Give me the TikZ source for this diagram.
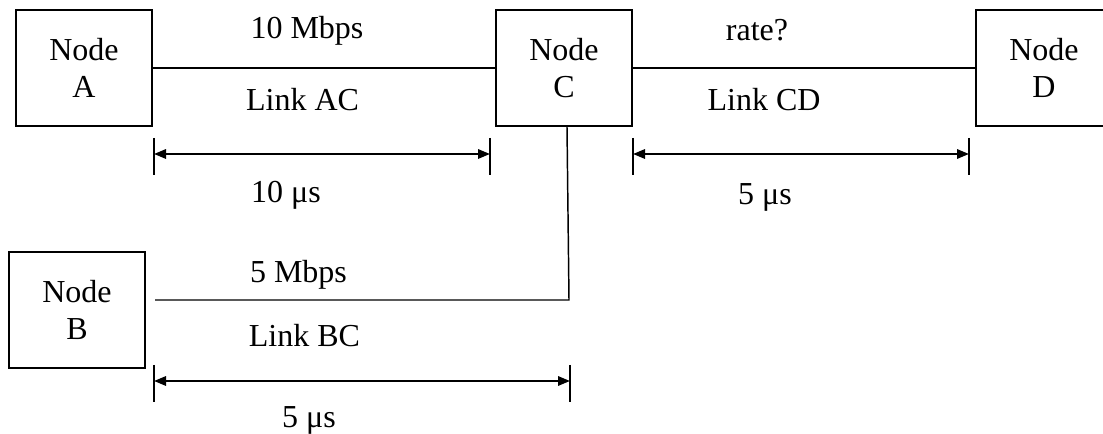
\documentclass[tikz,border=0pt]{standalone}
\usepackage{fontspec}
\setmainfont{Liberation Serif}
\usetikzlibrary{arrows.meta,calc}

\tikzset{
  nodebox/.style={draw, line width=1.6pt, minimum width=102pt, minimum height=87pt,
    inner sep=0pt, align=center, font=\fontsize{24}{27.75}\selectfont},
  lbl/.style={anchor=base, inner sep=0pt, font=\fontsize{24}{27.75}\selectfont},
  linkline/.style={line width=1.5pt},
  thinlink/.style={line width=1.1pt},
  tickline/.style={line width=1.7pt},
  dimline/.style={line width=1.6pt, {Triangle[length=9pt,width=7pt]}-{Triangle[length=9pt,width=7pt]}}
}

\begin{document}
\begin{tikzpicture}[x=0.75pt, y=-0.75pt]
    \useasboundingbox (0,0) rectangle (1103,434);

    \node[nodebox] (A) at (84,68) {Node\\A};
    \node[nodebox] (C) at (564,68) {Node\\C};
    \node[nodebox] (D) at (1044,68) {Node\\D};
    \node[nodebox] (B) at (77,310) {Node\\B};

    \draw[linkline] (A.east) -- (C.west);
    \draw[linkline] (C.east) -- (D.west);
    \coordinate (bc) at (569,300);
    \draw[thinlink] ($(B.east)+(9,-10)$) -- (bc) -- ($(C.south)+(3,0)$);

    \coordinate (ac1) at (154,154);
    \coordinate (ac2) at (490,154);
    \coordinate (cd1) at (633,154);
    \coordinate (cd2) at (969,154);
    \coordinate (bc1) at (154,381);
    \coordinate (bc2) at (570,381);
    \foreach \p in {ac1,ac2,cd1,cd2,bc1,bc2}
        \draw[tickline] ($(\p)+(0,-16)$) -- ($(\p)+(0,21)$);
    \draw[dimline] (ac1) -- (ac2);
    \draw[dimline] (cd1) -- (cd2);
    \draw[dimline] (bc1) -- (bc2);

    \node[lbl] (rateAC) at (307,39) {10 Mbps};
    \node[lbl] (linkAC) at (302.5,111) {Link AC};
    \node[lbl] (timeAC) at (286,203) {10 μs};
    \node[lbl] (rateCD) at (757,41) {rate?};
    \node[lbl] (linkCD) at (764,111) {Link CD};
    \node[lbl] (timeCD) at (765,205) {5 μs};
    \node[lbl] (rateBC) at (298.5,283) {5 Mbps};
    \node[lbl] (linkBC) at (304.5,347) {Link BC};
    \node[lbl] (timeBC) at (309,427) {5 μs};
\end{tikzpicture}
\end{document}
